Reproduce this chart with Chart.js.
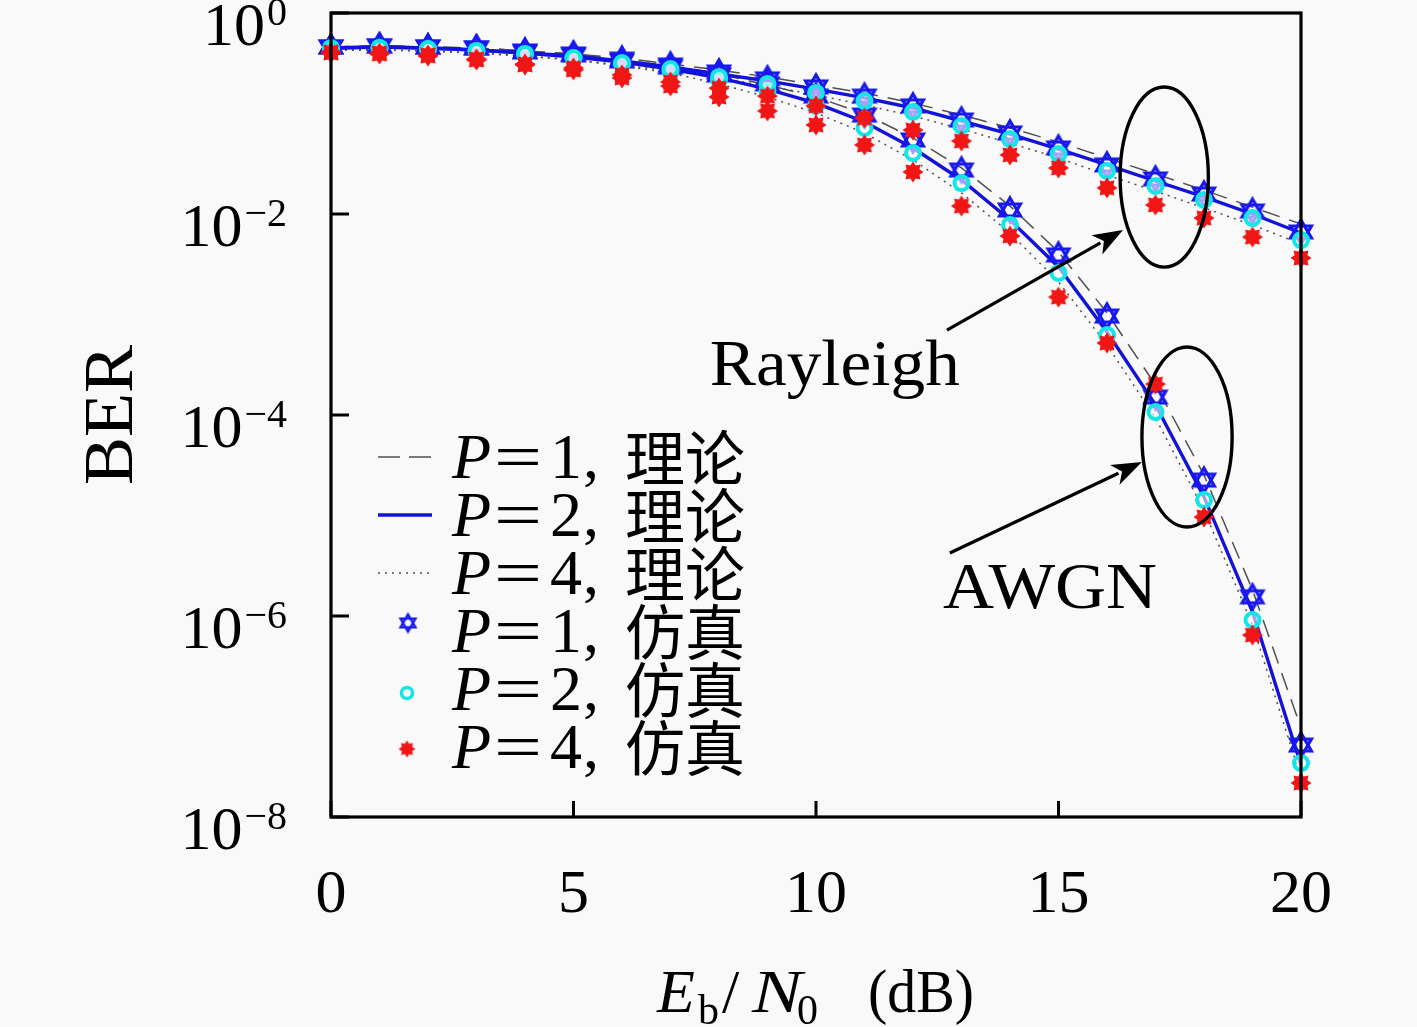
<!DOCTYPE html>
<html><head><meta charset="utf-8">
<script src="https://cdn.jsdelivr.net/npm/chart.js@4.4.1/dist/chart.umd.min.js"></script>
<style>html,body{margin:0;padding:0;background:#f9f9f9;}canvas{display:block}</style>
</head><body>
<canvas id="c" width="1417" height="1027"></canvas>
<script>
// ---------------- data ----------------
const snr = [0,1,2,3,4,5,6,7,8,9,10,11,12,13,14,15,16,17,18,19,20];

const rayleighTheoryP1 = [0.459,0.470,0.459,0.449,0.419,0.391,0.356,0.311,0.271,0.231,0.192,0.160,0.127,0.0966,0.0718,0.0520,0.0361,0.0250,0.0173,0.0117,0.00795];
const rayleighTheoryP2 = [0.449,0.459,0.449,0.428,0.400,0.373,0.333,0.290,0.247,0.211,0.175,0.143,0.1135,0.0842,0.0625,0.0443,0.0308,0.0213,0.0148,0.0100,0.00647];
const rayleighTheoryP4 = [0.428,0.428,0.419,0.400,0.373,0.341,0.304,0.265,0.226,0.188,0.153,0.1216,0.0945,0.0701,0.0508,0.0361,0.0244,0.0169,0.0115,0.00778,0.00503];
const rayleighSimP1 = [0.459,0.470,0.459,0.449,0.419,0.391,0.348,0.304,0.259,0.221,0.184,0.149,0.119,0.0861,0.0640,0.0454,0.0308,0.0223,0.0158,0.0107,0.00662];
const rayleighSimP2 = [0.438,0.449,0.438,0.419,0.391,0.356,0.318,0.277,0.231,0.197,0.160,0.133,0.1035,0.0751,0.0557,0.0395,0.0268,0.0190,0.0138,0.00912,0.00551];
const rayleighSimP4 = [0.409,0.400,0.382,0.348,0.311,0.284,0.242,0.206,0.179,0.149,0.119,0.0902,0.0685,0.0532,0.0387,0.0287,0.0182,0.0123,0.00912,0.00590,0.00365];

const awgnTheoryP1 = [0.459,0.470,0.459,0.449,0.419,0.391,0.341,0.297,0.247,0.192,0.146,0.0989,0.0571,0.0287,0.0120,0.00419,1.04e-3,1.99e-4,2.53e-5,1.82e-6,7.69e-8];
const awgnTheoryP2 = [0.449,0.459,0.449,0.428,0.400,0.365,0.325,0.277,0.226,0.175,0.127,0.0823,0.0454,0.0218,0.00871,0.00297,6.70e-4,1.26e-4,1.53e-5,1.10e-6,3.29e-8];
const awgnTheoryP4 = [0.428,0.428,0.419,0.400,0.373,0.341,0.297,0.253,0.197,0.146,0.1012,0.0640,0.0345,0.0162,0.00647,0.00211,4.97e-4,9.33e-5,1.13e-5,8.13e-7,2.44e-8];
const awgnSimP1 = [0.459,0.470,0.459,0.449,0.409,0.382,0.333,0.290,0.242,0.197,0.149,0.0966,0.0545,0.0274,0.01096,0.00391,9.66e-4,1.51e-4,2.25e-5,1.55e-6,5.20e-8];
const awgnSimP2 = [0.449,0.449,0.438,0.419,0.391,0.356,0.311,0.265,0.216,0.168,0.119,0.0718,0.0405,0.0203,0.00778,0.00259,6.25e-4,1.07e-4,1.43e-5,9.12e-7,3.44e-8];
const awgnSimP4 = [0.400,0.391,0.373,0.341,0.304,0.271,0.226,0.188,0.146,0.106,0.0769,0.0486,0.0262,0.0120,0.00604,0.00149,5.20e-4,2.03e-4,9.66e-6,6.47e-7,2.18e-8];

const xTickValues = [0,5,10,15,20];
const yTickExponents = [0,-2,-4,-6,-8];
const legendP = ['1','2','4','1','2','4'];
const legendKind = ['理论','理论','理论','仿真','仿真','仿真'];
const xTitleParts = ['E','b','/','N','0','(dB)'];
const yTitle = 'BER';

// annotation placements (data coordinates)
const notes = {
  rayEllipse: {x:17.18, y:0.0233, rx:0.91, ryDec:0.896},
  awgnEllipse: {x:17.65, y:6.04e-5, rx:0.93, ryDec:0.896},
  rayArrow: {x0:12.70, y0:7.0e-4, x1:16.33, y1:6.93e-3},
  awgnArrow: {x0:12.76, y0:4.24e-6, x1:16.72, y1:3.40e-5},
  rayText: {x:7.81, y:2.0e-4, text:'Rayleigh', w:250},
  awgnText: {x:12.62, y:1.2e-6, text:'AWGN', w:214}
};

// ---------------- styles ----------------
const SERIF = '"Liberation Serif", "DejaVu Serif", serif';
const CJK = '"Noto Sans CJK SC", "Noto Sans CJK JP", sans-serif';
const BLUE = '#1212d8';
const GREY = '#505050';
const CYAN = '#12e6e6';
const RED = '#f01616';
const DASH = [18, 10];
const DOT = [2, 5];

function hexagram(scale){
  const s = Math.round(32*scale), c = document.createElement('canvas');
  c.width = c.height = s;
  const g = c.getContext('2d');
  g.strokeStyle = '#1818ee'; g.lineWidth = 3.2*scale; g.lineJoin = 'miter';
  const r = 12*scale, cx = s/2, cy = s/2;
  for (const off of [-90, 90]) {
    g.beginPath();
    for (let k=0;k<3;k++){ const a=(off+120*k)*Math.PI/180; const px=cx+r*Math.cos(a), py=cy+r*Math.sin(a); if(k) g.lineTo(px,py); else g.moveTo(px,py); }
    g.closePath(); g.stroke();
  }
  return c;
}
function redStar(scale){
  const s = Math.round(26*scale), c = document.createElement('canvas');
  c.width = c.height = s;
  const g = c.getContext('2d');
  g.fillStyle = RED;
  const cx = s/2, cy = s/2, ro = 10.5*scale, ri = 7*scale;
  g.beginPath();
  for (let k=0;k<16;k++){ const a=k*Math.PI/8 - Math.PI/2; const r = k%2?ri:ro; const px=cx+r*Math.cos(a), py=cy+r*Math.sin(a); if(k) g.lineTo(px,py); else g.moveTo(px,py); }
  g.closePath(); g.fill();
  return c;
}
const starImg = hexagram(1), starImgSmall = hexagram(0.72);
const redImg = redStar(1), redImgSmall = redStar(0.8);

const pts = arr => snr.map((x,i)=>({x, y: arr[i]}));

function theory(arr, kind){
  const base = {data: pts(arr), pointRadius:0, fill:false, tension:0, clip:false, order:10};
  if (kind===1) return Object.assign(base,{borderColor:GREY, borderWidth:1.5, borderDash:DASH});
  if (kind===2) return Object.assign(base,{borderColor:BLUE, borderWidth:3.4, order:9});
  return Object.assign(base,{borderColor:GREY, borderWidth:1.5, borderDash:DOT});
}
function sim(arr, kind){
  const base = {data: pts(arr), showLine:false, clip:false};
  if (kind===1) return Object.assign(base,{pointStyle:starImg, pointRadius:12, borderColor:'#1818ee', order:3});
  if (kind===2) return Object.assign(base,{pointStyle:'circle', pointRadius:7, pointBorderWidth:4, pointBorderColor:CYAN, pointBackgroundColor:'rgba(255,255,255,0.6)', borderColor:CYAN, order:2});
  return Object.assign(base,{pointStyle:redImg, pointRadius:11, borderColor:RED, order:1});
}

const datasets = [
  theory(rayleighTheoryP1,1), theory(rayleighTheoryP2,2), theory(rayleighTheoryP4,4),
  theory(awgnTheoryP1,1), theory(awgnTheoryP2,2), theory(awgnTheoryP4,4),
  sim(rayleighSimP1,1), sim(rayleighSimP2,2), sim(rayleighSimP4,4),
  sim(awgnSimP1,1), sim(awgnSimP2,2), sim(awgnSimP4,4)
];

function fitText(ctx, text, x, y, font, width){
  ctx.font = font;
  const w = ctx.measureText(text).width;
  ctx.save(); ctx.translate(x,y); ctx.scale(width/w,1); ctx.textAlign='left'; ctx.fillText(text,0,0); ctx.restore();
}

const bgPlugin = {
  id:'bg',
  beforeDraw(chart){ const c=chart.ctx; c.save(); c.fillStyle='#f9f9f9'; c.fillRect(0,0,chart.width,chart.height); c.restore(); }
};

const decorPlugin = {
  id:'decor',
  afterDatasetsDraw(chart){
    const ctx = chart.ctx, xs = chart.scales.x, ys = chart.scales.y, a = chart.chartArea;
    ctx.save();
    ctx.fillStyle = '#000'; ctx.strokeStyle = '#000';
    // frame
    ctx.lineWidth = 3.2;
    ctx.strokeRect(a.left, a.top, a.right-a.left, a.bottom-a.top);
    // x ticks & labels
    ctx.lineWidth = 3;
    ctx.textAlign = 'center'; ctx.textBaseline = 'alphabetic';
    for (const v of xTickValues){
      const px = xs.getPixelForValue(v);
      ctx.beginPath(); ctx.moveTo(px, a.bottom); ctx.lineTo(px, a.bottom-16); ctx.stroke();
      ctx.font = '62px '+SERIF;
      ctx.fillText(String(v), px, a.bottom+95);
    }
    // y ticks & labels
    for (const e of yTickExponents){
      const py = ys.getPixelForValue(Math.pow(10,e));
      ctx.beginPath(); ctx.moveTo(a.left, py); ctx.lineTo(a.left+18, py); ctx.stroke();
      const ex = e===0 ? '0' : '\u2212'+String(-e);
      ctx.font = '40px '+SERIF; ctx.textAlign='right';
      const ew = ctx.measureText(ex).width;
      ctx.fillText(ex, 287, py+12);
      ctx.font = '62px '+SERIF;
      ctx.fillText('10', 287-ew-2, py+32);
    }
    // axis titles
    ctx.textAlign='left';
    const bl = a.bottom + 195;
    ctx.font = 'italic 62px '+SERIF; ctx.fillText(xTitleParts[0], 657, bl);
    ctx.font = '42px '+SERIF; ctx.fillText(xTitleParts[1], 698, bl+12);
    ctx.font = '62px '+SERIF; ctx.fillText(xTitleParts[2], 722, bl);
    fitText(ctx, xTitleParts[3], 752, bl, 'italic 62px '+SERIF, 50);
    ctx.font = '42px '+SERIF; ctx.fillText(xTitleParts[4], 797, bl+12);
    fitText(ctx, xTitleParts[5], 868, bl, '62px '+SERIF, 106);
    ctx.save(); ctx.translate(132, 415); ctx.rotate(-Math.PI/2);
    ctx.font = '70px '+SERIF; const bw = ctx.measureText(yTitle).width;
    ctx.scale(140/bw,1); ctx.textAlign='center'; ctx.fillText(yTitle, 0, 0); ctx.restore();

    // annotations
    ctx.lineWidth = 3.4;
    for (const k of ['rayEllipse','awgnEllipse']){
      const n = notes[k];
      const cx = xs.getPixelForValue(n.x), cy = ys.getPixelForValue(n.y);
      const rx = xs.getPixelForValue(n.x+n.rx) - cx;
      const ry = cy - ys.getPixelForValue(n.y*Math.pow(10,n.ryDec));
      ctx.beginPath(); ctx.ellipse(cx, cy, rx, ry, 0, 0, Math.PI*2); ctx.stroke();
    }
    for (const k of ['rayArrow','awgnArrow']){
      const n = notes[k];
      const x0 = xs.getPixelForValue(n.x0), y0 = ys.getPixelForValue(n.y0);
      const x1 = xs.getPixelForValue(n.x1), y1 = ys.getPixelForValue(n.y1);
      const ang = Math.atan2(y1-y0, x1-x0), L = 30, W = 11;
      const bx = x1 - L*Math.cos(ang), by = y1 - L*Math.sin(ang);
      ctx.lineWidth = 3.2;
      ctx.beginPath(); ctx.moveTo(x0,y0); ctx.lineTo(bx+4*Math.cos(ang), by+4*Math.sin(ang)); ctx.stroke();
      ctx.beginPath(); ctx.moveTo(x1,y1);
      ctx.lineTo(bx - W*Math.sin(ang), by + W*Math.cos(ang));
      ctx.lineTo(bx + 8*Math.cos(ang), by + 8*Math.sin(ang));
      ctx.lineTo(bx + W*Math.sin(ang), by - W*Math.cos(ang));
      ctx.closePath(); ctx.fill();
    }
    for (const k of ['rayText','awgnText']){
      const n = notes[k];
      fitText(ctx, n.text, xs.getPixelForValue(n.x), ys.getPixelForValue(n.y), '66px '+SERIF, n.w);
    }

    // legend
    for (let i=0;i<6;i++){
      const base = 478 + 58*i;
      const my = base - 21;
      ctx.save();
      if (i===0){ ctx.strokeStyle=GREY; ctx.lineWidth=1.5; ctx.setLineDash([22,9]); ctx.beginPath(); ctx.moveTo(378,my); ctx.lineTo(432,my); ctx.stroke(); }
      if (i===1){ ctx.strokeStyle=BLUE; ctx.lineWidth=3.4; ctx.beginPath(); ctx.moveTo(378,my); ctx.lineTo(432,my); ctx.stroke(); }
      if (i===2){ ctx.strokeStyle=GREY; ctx.lineWidth=1.5; ctx.setLineDash(DOT); ctx.beginPath(); ctx.moveTo(378,my); ctx.lineTo(432,my); ctx.stroke(); }
      if (i===3){ ctx.drawImage(starImgSmall, 408-starImgSmall.width/2, my-8-starImgSmall.height/2); }
      if (i===4){ ctx.strokeStyle=CYAN; ctx.lineWidth=3.6; ctx.fillStyle='rgba(255,255,255,0.6)'; ctx.beginPath(); ctx.arc(407, my+4, 5.5, 0, Math.PI*2); ctx.fill(); ctx.stroke(); }
      if (i===5){ ctx.drawImage(redImgSmall, 407-redImgSmall.width/2, my+2-redImgSmall.height/2); }
      ctx.restore();
      ctx.fillStyle='#000'; ctx.textAlign='left';
      ctx.font = 'italic 64px '+SERIF; ctx.fillText('P', 452, base);
      fitText(ctx, '=', 494, base, '64px '+SERIF, 48);
      ctx.font = '64px '+SERIF; ctx.fillText(legendP[i], 550, base);
      ctx.fillText(',', 583, base);
      ctx.font = '60px '+CJK; ctx.fillText(legendKind[i], 625, base+3);
    }
    ctx.restore();
  }
};

new Chart(document.getElementById('c'), {
  type:'line',
  data:{datasets},
  options:{
    responsive:false, animation:false, devicePixelRatio:1,
    layout:{padding:{top:13, right:116, left:0, bottom:0}},
    plugins:{legend:{display:false}, tooltip:{enabled:false}},
    scales:{
      x:{type:'linear', min:0, max:20, ticks:{display:false}, grid:{display:false}, border:{display:false},
         afterFit(s){ s.height = 210; }},
      y:{type:'logarithmic', min:1e-8, max:1, ticks:{display:false}, grid:{display:false}, border:{display:false},
         afterFit(s){ s.width = 331; }}
    }
  },
  plugins:[bgPlugin, decorPlugin]
});
</script>
</body></html>
